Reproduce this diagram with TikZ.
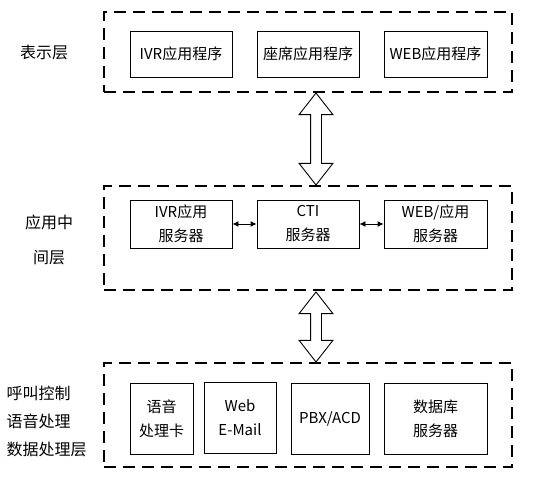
\documentclass[tikz,border=0pt]{standalone}
\usepackage{fontspec}
\setmainfont{Noto Sans CJK SC}
\usepackage{tikz}
\usetikzlibrary{arrows.meta,positioning,shapes.arrows}

\begin{document}
\begin{tikzpicture}[
  x=1pt,y=-1pt,
  font=\fontsize{15}{24}\selectfont,
  layer/.style={rectangle,draw=black,line width=2pt,dash pattern=on 12pt off 7pt,inner sep=0pt,minimum width=408pt},
  unit/.style={rectangle,draw=black,line width=.9pt,align=center,inner sep=0pt},
  layertitle/.style={align=center,font=\fontsize{16}{35}\selectfont},
  bigarrow/.style={double arrow,draw=black,line width=.9pt,inner sep=5pt,double arrow head extend=11.5pt,double arrow tip angle=76,rotate=90},
  link/.style={{Latex[length=6pt,width=6pt]}-{Latex[length=6pt,width=6pt]},line width=.9pt}
]
\useasboundingbox (0,0) rectangle (535,478);
% presentation layer
\node[layer,minimum height=80pt] (pres) at (308,52) {};
\node[layertitle] (prestitle) at (44,52) {表示层};
\node[unit,minimum width=102pt,minimum height=46pt] (ivrapp) at (181,54) {IVR应用程序};
\node[unit,minimum width=102pt,minimum height=46pt] (seatapp) at (308,54) {座席应用程序};
\node[unit,minimum width=103pt,minimum height=46pt] (webapp) at (435.5,54) {WEB应用程序};
% middle layer
\node[layer,minimum height=104pt] (app) at (308,238) {};
\node[layertitle] (apptitle) at (49,240) {应用中\\间层};
\node[unit,minimum width=102pt,minimum height=48pt] (ivrsrv) at (181,224) {IVR应用\\服务器};
\node[unit,minimum width=102pt,minimum height=48pt] (ctisrv) at (308,224) {CTI\\服务器};
\node[unit,minimum width=103pt,minimum height=48pt] (websrv) at (435.5,224) {WEB/应用\\服务器};
\draw[link] (ivrsrv) -- (ctisrv);
\draw[link] (ctisrv) -- (websrv);
% data layer
\node[layer,minimum height=104pt] (data) at (308,415) {};
\node[layertitle,align=left,anchor=west,font=\fontsize{16}{28}\selectfont] (datatitle) at (3,421) {呼叫控制\\语音处理\\数据处理层};
\node[unit,minimum width=63pt,minimum height=71pt] (voicecard) at (161.5,418.5) {语音\\处理卡};
\node[unit,minimum width=72pt,minimum height=71pt] (webmail) at (240,417.5) {Web\\E-Mail};
\node[unit,minimum width=78pt,minimum height=71pt] (pbx) at (330,418.5) {PBX/ACD};
\node[unit,minimum width=103pt,minimum height=71pt] (dbsrv) at (435.5,418.5) {数据库\\服务器};
% links between layers
\node[bigarrow,minimum height=92pt] (presapp) at (316,139) {};
\node[bigarrow,minimum height=70pt] (appdata) at (316,327) {};
\end{tikzpicture}
\end{document}
